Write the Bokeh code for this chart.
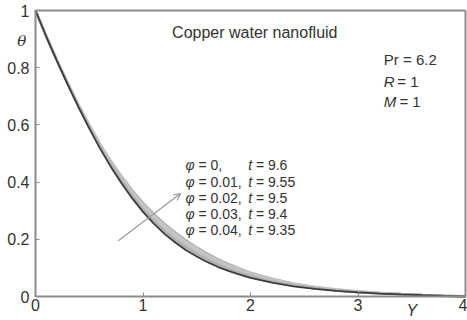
from bokeh.plotting import figure
from bokeh.models import Range1d, FixedTicker, Label, Arrow, OpenHead, LinearAxis
from bokeh.embed import file_html
from bokeh.resources import INLINE

# ---- data ----
Y = [0.0, 0.1, 0.2, 0.3, 0.4, 0.5, 0.6, 0.7, 0.8, 0.9, 1.0, 1.1, 1.2, 1.3, 1.4, 1.5,
     1.6, 1.7, 1.8, 1.9, 2.0, 2.2, 2.4, 2.6, 2.8, 3.0, 3.2, 3.4, 3.6, 3.8, 4.0]
theta_phi0 = [1.0, 0.909, 0.823, 0.741, 0.662, 0.588, 0.518, 0.454, 0.396, 0.343, 0.296,
              0.255, 0.219, 0.189, 0.162, 0.140, 0.120, 0.103, 0.0886, 0.0762, 0.0654,
              0.0483, 0.0356, 0.0263, 0.0194, 0.0143, 0.0104, 0.0072, 0.0044, 0.002, 0.0]
theta_phi1 = [1.0, 0.9095, 0.824, 0.743, 0.6645, 0.5915, 0.5225, 0.4595, 0.4025, 0.3505,
              0.304, 0.264, 0.228, 0.198, 0.171, 0.148, 0.128, 0.110, 0.0949, 0.0817,
              0.0702, 0.0521, 0.0384, 0.0283, 0.0209, 0.0153, 0.0112, 0.0077, 0.0047,
              0.0022, 0.0]
theta_phi2 = [1.0, 0.910, 0.825, 0.7445, 0.667, 0.595, 0.527, 0.465, 0.409, 0.358, 0.3125,
              0.2725, 0.237, 0.207, 0.1795, 0.1565, 0.1355, 0.117, 0.1011, 0.0872, 0.0749,
              0.0558, 0.0411, 0.0303, 0.0224, 0.0163, 0.0119, 0.0082, 0.005, 0.0023, 0.0]
theta_phi3 = [1.0, 0.9105, 0.826, 0.746, 0.6695, 0.5985, 0.5315, 0.4705, 0.4155, 0.3655,
              0.3208, 0.2813, 0.246, 0.216, 0.1883, 0.1648, 0.1433, 0.124, 0.1074, 0.0927,
              0.0797, 0.0596, 0.0439, 0.0323, 0.0239, 0.0173, 0.0127, 0.0087, 0.0053,
              0.0025, 0.0]
theta_phi4 = [1.0, 0.911, 0.827, 0.748, 0.672, 0.602, 0.536, 0.476, 0.422, 0.373, 0.329,
              0.290, 0.255, 0.225, 0.197, 0.173, 0.151, 0.131, 0.1136, 0.0982, 0.0844,
              0.0633, 0.0466, 0.0343, 0.0254, 0.0183, 0.0134, 0.0092, 0.0056, 0.0026, 0.0]
series = [theta_phi0, theta_phi1, theta_phi2, theta_phi3, theta_phi4]
phi_labels = ["= 0,", "= 0.01,", "= 0.02,", "= 0.03,", "= 0.04,"]
t_labels = ["= 9.6", "= 9.55", "= 9.5", "= 9.4", "= 9.35"]
x_ticks = [0, 1, 2, 3, 4]
y_ticks = [0, 0.2, 0.4, 0.6, 0.8, 1]
y_tick_labels = ["0", "0.2", "0.4", "0.6", "0.8", "1"]

FONT = "Liberation Sans"
TXT = "#333333"
AX = "#8c8c8c"

W, H = 467, 320
# frame covers the whole canvas; axes are placed at the data origin
p = figure(width=W, height=H, output_backend="svg", toolbar_location=None,
           x_range=Range1d(-35 / 107.5, 4 + 2 / 107.5),
           y_range=Range1d(-24 / 286, 1 + 10 / 286),
           min_border_left=0, min_border_right=0, min_border_top=0, min_border_bottom=0,
           x_axis_location=None, y_axis_location=None)
p.title.visible = False
p.grid.visible = False
p.outline_line_color = None
p.background_fill_color = "white"
p.border_fill_color = "white"

def style_axis(ax, ticks):
    ax.axis_line_color = AX
    ax.axis_line_width = 2
    ax.major_tick_in = 4
    ax.major_tick_out = 0
    ax.major_tick_line_color = AX
    ax.minor_tick_line_color = None
    ax.major_label_text_font = FONT
    ax.major_label_text_font_size = "16px"
    ax.major_label_text_color = TXT
    ax.ticker = FixedTicker(ticks=ticks)

xax = LinearAxis(fixed_location=0, bounds=(0, 4))
style_axis(xax, x_ticks)
xax.major_label_standoff = 2
p.add_layout(xax, "below")

yax = LinearAxis(fixed_location=0, bounds=(0, 1))
style_axis(yax, y_ticks)
yax.major_label_overrides = {t: l for t, l in zip(y_ticks, y_tick_labels)}
yax.major_label_standoff = 6
p.add_layout(yax, "left")

# frame top and right edges
top = LinearAxis(fixed_location=1, bounds=(0, 4))
style_axis(top, [])
top.major_label_text_color = None
p.add_layout(top, "above")
right = LinearAxis(fixed_location=4, bounds=(0, 1))
style_axis(right, [])
right.major_label_text_color = None
p.add_layout(right, "right")

# draw outer (light) curves first, phi = 0 (dark) last
colors = ["#b4b4b4", "#c6c6c6", "#c2c2c2", "#b0b0b0", "#3c3c3c"]
widths = [2.0, 2.6, 2.6, 2.6, 1.8]
for s, c, w in zip(reversed(series), colors, widths):
    p.line(Y, s, line_color=c, line_width=w)

p.add_layout(Arrow(end=OpenHead(size=7, line_color="#9a9a9a", line_width=1.2),
                   x_start=0.77, y_start=0.195, x_end=1.35, y_end=0.36,
                   line_color="#9a9a9a", line_width=1.2))

def lab(x, y, text, size="14px", style="normal", align="left", font=FONT,
        baseline="middle"):
    p.add_layout(Label(x=x, y=y, text=text, text_font=font, text_font_size=size,
                       text_font_style=style, text_color=TXT, text_align=align,
                       text_baseline=baseline))

rows_y = [0.46, 0.402, 0.346, 0.29, 0.232]
for ry, pl, tl in zip(rows_y, phi_labels, t_labels):
    lab(1.395, ry, "φ", style="italic")
    lab(1.516, ry, pl)
    lab(1.98, ry, "t", style="italic")
    lab(2.05, ry, tl)

lab(2.04, 0.923, "Copper water nanofluid", size="16px", align="center")
lab(3.24, 0.83, "Pr = 6.2", size="15px")
lab(3.24, 0.753, "R", size="15px", style="italic")
lab(3.365, 0.753, "= 1", size="15px")
lab(3.24, 0.683, "M", size="15px", style="italic")
lab(3.385, 0.683, "= 1", size="15px")
lab(-0.17, 0.895, "θ", size="15px", style="italic", font="DejaVu Serif")
lab(3.45, -0.0804, "Y", size="16px", style="italic", baseline="bottom")

open("out.html", "w").write(file_html(p, INLINE))
